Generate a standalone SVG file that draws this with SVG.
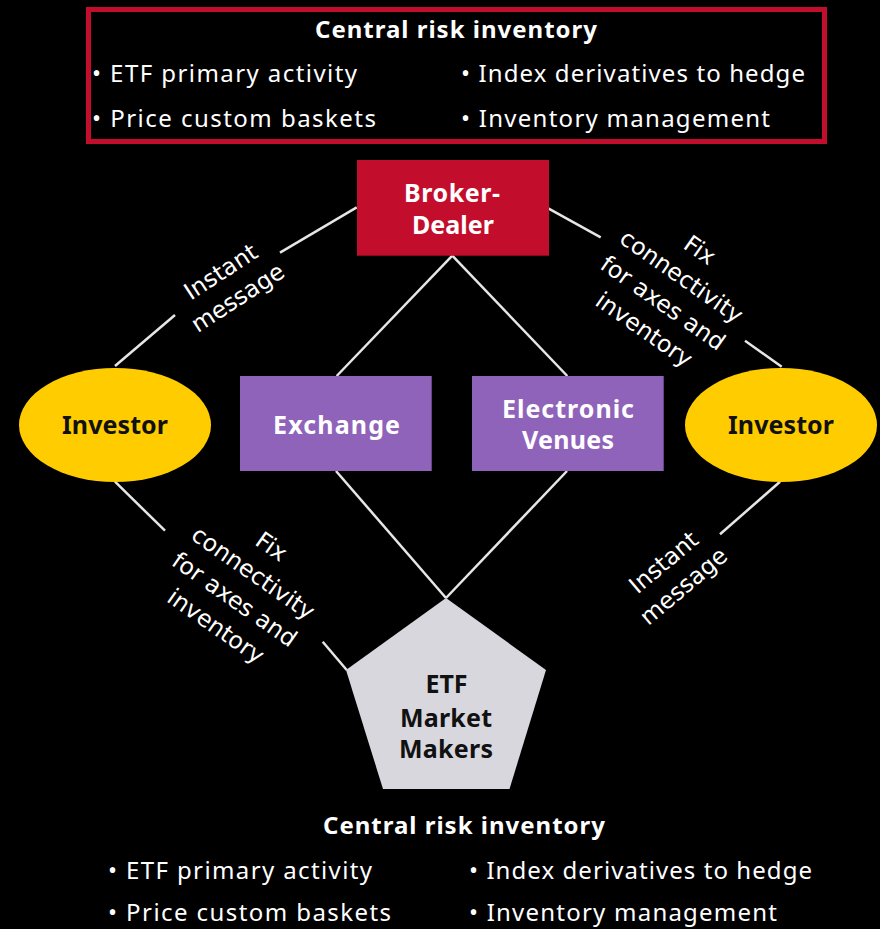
<svg xmlns="http://www.w3.org/2000/svg" width="880" height="929" viewBox="0 0 880 929">
<style>
.bul{font-family:"Noto Sans","Liberation Sans",sans-serif;font-size:24px;fill:#ffffff}
.ttl{font-family:"Noto Sans","Liberation Sans",sans-serif;font-size:24px;font-weight:bold;fill:#ffffff;text-anchor:middle}
.lbl{font-family:"Noto Sans","Liberation Sans",sans-serif;font-size:25px;font-weight:bold;text-anchor:middle}
.w{fill:#ffffff}
.k{fill:#111111}
.edge{font-family:"DejaVu Sans","Liberation Sans",sans-serif;font-size:23.5px;fill:#ffffff;text-anchor:middle}
.ln{stroke:#e6e6e6;stroke-width:2.5;fill:none;stroke-linecap:butt}
</style>
<rect x="0" y="0" width="880" height="929" fill="#000000"/>

<g id="top-inventory">
<rect x="88.5" y="9.5" width="736" height="132" fill="none" stroke="#c20e2c" stroke-width="5"/>
<text class="ttl" x="456" y="37.5" textLength="282">Central risk inventory</text>
<text class="bul" x="92" y="82" textLength="265">• ETF primary activity</text>
<text class="bul" x="461" y="82" textLength="344">• Index derivatives to hedge</text>
<text class="bul" x="92" y="127" textLength="284">• Price custom baskets</text>
<text class="bul" x="461" y="127" textLength="309">• Inventory management</text>
</g>

<g id="connectors">
<line class="ln" x1="452.3" y1="255.7" x2="336.7" y2="376"/>
<line class="ln" x1="452.3" y1="255.7" x2="567.3" y2="376"/>
<line class="ln" x1="336" y1="471" x2="446" y2="598"/>
<line class="ln" x1="567" y1="471" x2="446" y2="598"/>
<line class="ln" x1="356.7" y1="207.3" x2="280" y2="252.7"/>
<line class="ln" x1="175" y1="315" x2="115" y2="366"/>
<line class="ln" x1="548.3" y1="208.3" x2="600.7" y2="237.3"/>
<line class="ln" x1="745" y1="340.7" x2="781.7" y2="366.7"/>
<line class="ln" x1="115" y1="481.7" x2="165" y2="530.7"/>
<line class="ln" x1="322.7" y1="641.7" x2="346.7" y2="670"/>
<line class="ln" x1="780" y1="481.7" x2="720" y2="534.3"/>
<g transform="translate(230,286) rotate(-33)">
<text class="edge" x="0" y="-9">Instant</text>
<text class="edge" x="0" y="22">message</text>
</g>
<g transform="translate(671.8,290.4) rotate(35)">
<text class="edge" x="0" y="-41">Fix</text>
<text class="edge" x="0" y="-9">connectivity</text>
<text class="edge" x="0" y="23.5">for axes and</text>
<text class="edge" x="0" y="56">inventory</text>
</g>
<g transform="translate(243.5,586.9) rotate(35)">
<text class="edge" x="0" y="-41">Fix</text>
<text class="edge" x="0" y="-9">connectivity</text>
<text class="edge" x="0" y="23.5">for axes and</text>
<text class="edge" x="0" y="56">inventory</text>
</g>
<g transform="translate(674.6,575.4) rotate(-40)">
<text class="edge" x="0" y="-9">Instant</text>
<text class="edge" x="0" y="22">message</text>
</g>
</g>

<g id="broker-dealer">
<rect x="357" y="160" width="192" height="95.7" fill="#c20e2c"/>
<text class="lbl w" x="452" y="202" textLength="96">Broker-</text>
<text class="lbl w" x="453" y="234" textLength="82">Dealer</text>
</g>

<g id="exchange">
<rect x="240" y="376" width="191.7" height="95" fill="#9063bb"/>
<text class="lbl w" x="336.5" y="434" textLength="127">Exchange</text>
</g>

<g id="electronic-venues">
<rect x="472" y="376" width="191.7" height="95" fill="#9063bb"/>
<text class="lbl w" x="568" y="418" textLength="132">Electronic</text>
<text class="lbl w" x="568" y="449" textLength="92">Venues</text>
</g>

<g id="investor-left">
<ellipse cx="115" cy="425" rx="96" ry="57" fill="#ffcc00"/>
<text class="lbl k" x="115" y="434" textLength="106">Investor</text>
</g>

<g id="investor-right">
<ellipse cx="781" cy="425" rx="96" ry="57" fill="#ffcc00"/>
<text class="lbl k" x="781" y="434" textLength="106">Investor</text>
</g>

<g id="etf-market-makers">
<polygon points="446,598 546,670 509.5,789 383,789 346,670" fill="#d8d7de"/>
<text class="lbl k" x="446.5" y="693">ETF</text>
<text class="lbl k" x="446" y="727" textLength="92">Market</text>
<text class="lbl k" x="446" y="758" textLength="94">Makers</text>
</g>

<g id="bottom-inventory">
<text class="ttl" x="464" y="834" textLength="282">Central risk inventory</text>
<text class="bul" x="108" y="879" textLength="264">• ETF primary activity</text>
<text class="bul" x="469" y="879" textLength="343">• Index derivatives to hedge</text>
<text class="bul" x="108" y="921" textLength="283">• Price custom baskets</text>
<text class="bul" x="469" y="921" textLength="308">• Inventory management</text>
</g>
</svg>
